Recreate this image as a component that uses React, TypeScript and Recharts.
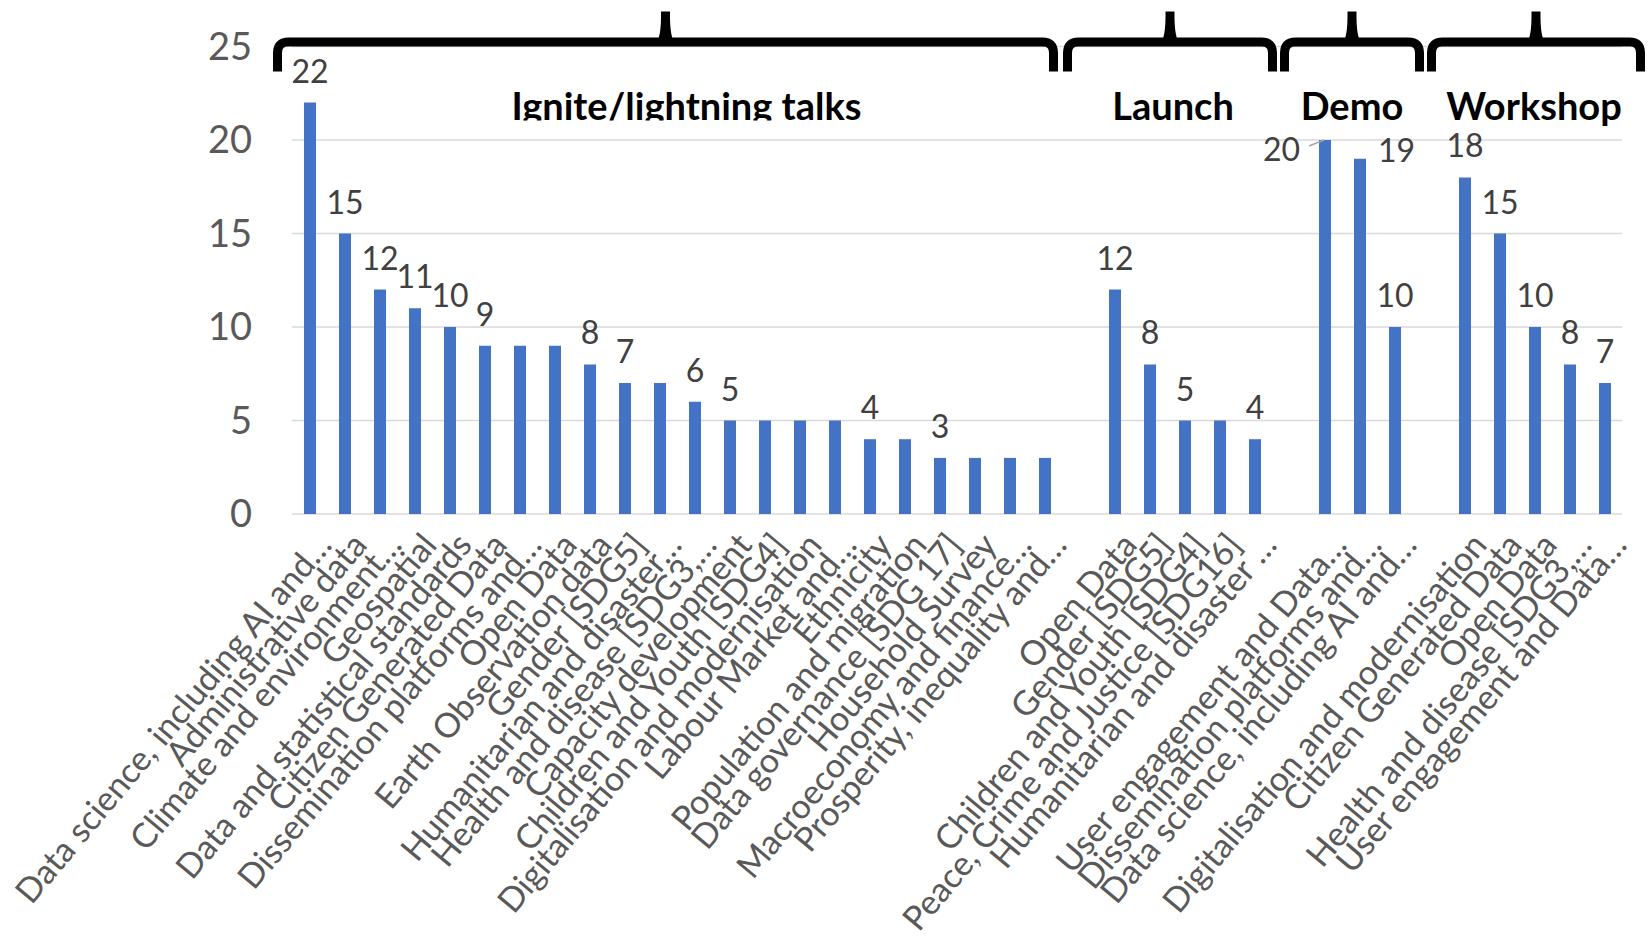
import React from "react";
import {
  BarChart,
  Bar,
  XAxis,
  YAxis,
  CartesianGrid,
  LabelList,
  ReferenceArea,
} from "recharts";

// ---------- data ----------
const igniteCategories = [
  "Data science, including AI and…",
  "Administrative data",
  "Climate and environment…",
  "Geospatial",
  "Data and statistical standards",
  "Citizen Generated Data",
  "Dissemination platforms and…",
  "Open Data",
  "Earth Observation data",
  "Gender [SDG5]",
  "Humanitarian and disaster…",
  "Health and disease [SDG3,…",
  "Capacity development",
  "Children and Youth [SDG4]",
  "Digitalisation and modernisation",
  "Labour Market and…",
  "Ethnicity",
  "Population and migration",
  "Data governance [SDG 17]",
  "Household Survey",
  "Macroeconomy and finance…",
  "Prosperity, inequality and…",
];
const igniteValues = [22, 15, 12, 11, 10, 9, 9, 9, 8, 7, 7, 6, 5, 5, 5, 5, 4, 4, 3, 3, 3, 3];
const igniteShowLabel = [1, 1, 1, 1, 1, 1, 0, 0, 1, 1, 0, 1, 1, 0, 0, 0, 1, 0, 1, 0, 0, 0];

const launchCategories = [
  "Open Data",
  "Gender [SDG5]",
  "Children and Youth [SDG4]",
  "Peace, Crime and Justice [SDG16]",
  "Humanitarian and disaster …",
];
const launchValues = [12, 8, 5, 5, 4];
const launchShowLabel = [1, 1, 1, 0, 1];

const demoCategories = [
  "User engagement and Data…",
  "Dissemination platforms and…",
  "Data science, including AI and…",
];
const demoValues = [20, 19, 10];
const demoShowLabel = [1, 1, 1];

const workshopCategories = [
  "Digitalisation and modernisation",
  "Citizen Generated Data",
  "Open Data",
  "Health and disease [SDG3,…",
  "User engagement and Data…",
];
const workshopValues = [18, 15, 10, 8, 7];
const workshopShowLabel = [1, 1, 1, 1, 1];

const groupTitles = ["Ignite/lightning talks", "Launch", "Demo", "Workshop"];
const yTicks = [0, 5, 10, 15, 20, 25];

// ---------- build table ----------
type Row = { key: string; name: string; value: number | null; show: boolean };
const groupsRaw = [
  { id: "ig", cats: igniteCategories, vals: igniteValues, show: igniteShowLabel },
  { id: "la", cats: launchCategories, vals: launchValues, show: launchShowLabel },
  { id: "de", cats: demoCategories, vals: demoValues, show: demoShowLabel },
  { id: "wo", cats: workshopCategories, vals: workshopValues, show: workshopShowLabel },
];
const rows: Row[] = [];
groupsRaw.forEach((g, gi) => {
  if (gi > 0) rows.push({ key: `gap-${gi - 1}`, name: "", value: null, show: false });
  g.cats.forEach((c, i) =>
    rows.push({ key: `${g.id}-${i}`, name: c, value: g.vals[i], show: !!g.show[i] })
  );
});
const rowByKey: Record<string, Row> = {};
rows.forEach((r) => (rowByKey[r.key] = r));

// ---------- style config ----------
const FONT = "Lato, 'Open Sans', sans-serif";
const BAR_COLOR = "#4472C4";
const labelSide: Record<string, "left" | "right"> = { "de-0": "left", "de-1": "right" };

const braces = [
  { from: "ig-0", to: "ig-21", padL: -19, padR: -4, titleDx: 21, clip: true },
  { from: "gap-0", to: "la-4", padL: 1, padR: 5, titleDx: 3, clip: false },
  { from: "gap-1", to: "de-2", padL: 8, padR: 12, titleDx: 0, clip: false },
  { from: "gap-2", to: "wo-4", padL: 15, padR: 23, titleDx: -2, clip: false },
];

const XTick = (props: any) => {
  const { x, y, payload } = props;
  const row = rows[payload.index];
  if (!row || !row.name) return null;
  const tx = x + 24;
  const ty = y + 32;
  return (
    <text
      x={tx}
      y={ty}
      transform={`rotate(-50, ${tx}, ${ty})`}
      textAnchor="end"
      fontSize={34}
      fontFamily={FONT}
      fill="#595959"
    >
      {row.name}
    </text>
  );
};

const renderLabel = (props: any) => {
  const { x, y, width, value } = props;
  const row = rowByKey[value];
  if (!row || row.value == null || !row.show) return null;
  const cx = Number(x) + Number(width) / 2;
  const top = Number(y);
  const side = labelSide[row.key];
  const common = { fontSize: 32, fontFamily: FONT, fill: "#404040" };
  if (side === "left") {
    return (
      <g>
        <line x1={cx - 16} y1={top + 6} x2={cx - 1} y2={top} stroke="#a6a6a6" strokeWidth={1.5} />
        <text x={cx - 25} y={top + 21} textAnchor="end" {...common}>
          {row.value}
        </text>
      </g>
    );
  }
  if (side === "right") {
    return (
      <text x={cx + 18} y={top + 3} textAnchor="start" {...common}>
        {row.value}
      </text>
    );
  }
  return (
    <text x={cx} y={top - 20} textAnchor="middle" {...common}>
      {row.value}
    </text>
  );
};

const makeBrace = (bi: number) => (props: any) => {
  const b = braces[bi];
  const { x, y, width } = props;
  const sw = 9;
  const xl = Number(x) + b.padL + sw / 2;
  const xr = Number(x) + Number(width) + b.padR - sw / 2;
  const yt = Number(y) - 4.5;
  const yb = Number(y) + 25;
  const yp = Number(y) - 35;
  const xc = (xl + xr) / 2;
  const r = 11;
  const d = `M ${xl} ${yb} L ${xl} ${yt + r} Q ${xl} ${yt} ${xl + r} ${yt} L ${xr - r} ${yt} Q ${xr} ${yt} ${xr} ${yt + r} L ${xr} ${yb}`;
  const spike = `M ${xc - 11} ${yt + 3} Q ${xc - 4} ${yt - 2} ${xc - 4.5} ${yp} L ${xc + 4.5} ${yp} Q ${xc + 4} ${yt - 2} ${xc + 11} ${yt + 3} Z`;
  const clipId = `title-clip-${bi}`;
  const tx = xc + b.titleDx;
  const ty = Number(y) + 73;
  return (
    <g>
      <path d={d} stroke="#000" strokeWidth={sw} fill="none" />
      <path d={spike} fill="#000" />
      {b.clip && (
        <defs>
          <clipPath id={clipId}>
            <rect x={tx - 300} y={ty - 60} width={600} height={61} />
          </clipPath>
        </defs>
      )}
      <text
        x={tx}
        y={ty}
        textAnchor="middle"
        fontSize={38}
        fontWeight={700}
        fontFamily={FONT}
        fill="#000"
        clipPath={b.clip ? `url(#${clipId})` : undefined}
      >
        {groupTitles[bi]}
      </text>
    </g>
  );
};

export default function App() {
  return (
    <div style={{ position: "absolute", left: 0, top: 0, width: 1649, height: 946 }}>
      <BarChart
        width={1649}
        height={946}
        data={rows}
        margin={{ top: 46.5, right: 27, bottom: 32, left: 0 }}
        barSize={12}
      >
        <CartesianGrid vertical={false} stroke="#d9d9d9" strokeWidth={1.5} />
        <XAxis
          dataKey="key"
          interval={0}
          height={400}
          tick={<XTick />}
          tickLine={false}
          axisLine={false}
          tickSize={0}
          tickMargin={0}
        />
        <YAxis
          width={292}
          domain={[0, 25]}
          ticks={yTicks}
          interval={0}
          tickLine={false}
          axisLine={false}
          tickSize={0}
          tickMargin={40}
          tick={{ fontSize: 38, fontFamily: FONT, fill: "#595959" }}
        />
        {braces.map((b, i) => (
          <ReferenceArea
            key={i}
            x1={b.from}
            x2={b.to}
            y1={0}
            y2={25}
            ifOverflow="visible"
            shape={makeBrace(i)}
          />
        ))}
        <Bar dataKey="value" fill={BAR_COLOR} isAnimationActive={false}>
          <LabelList dataKey="key" content={renderLabel} />
        </Bar>
      </BarChart>
    </div>
  );
}
